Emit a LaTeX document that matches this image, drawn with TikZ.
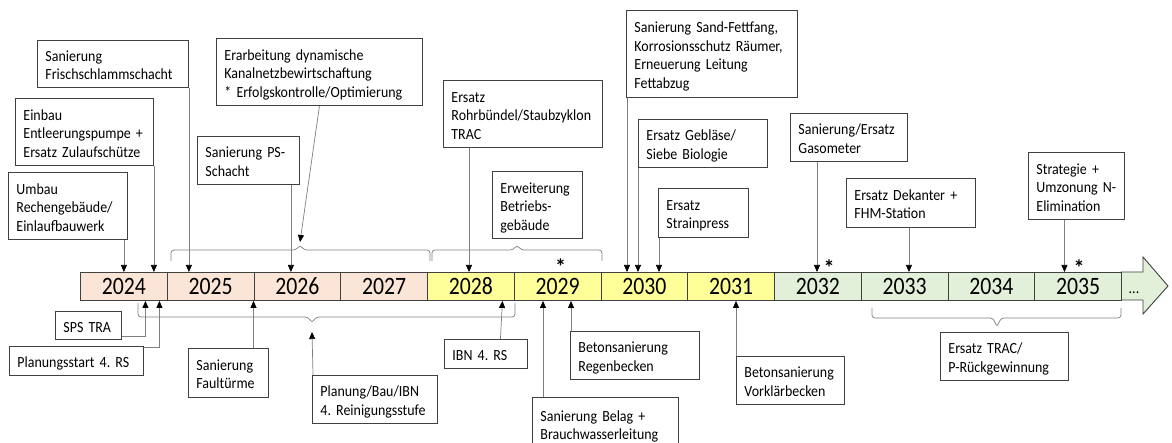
\documentclass[tikz,border=0pt]{standalone}
\usepackage{fontspec}
\setmainfont{Carlito}
\newfontfamily\boxfont{Carlito}[FakeStretch=0.9]
\newfontfamily\yearfont{Carlito}[FakeStretch=0.87]
\usetikzlibrary{arrows.meta,calc}
\definecolor{salmon}{HTML}{FBE5D6}
\definecolor{lemon}{HTML}{FFFF99}
\definecolor{mint}{HTML}{E2F0D9}
\definecolor{boxline}{HTML}{404040}
\definecolor{connline}{HTML}{7F7F7F}
\tikzset{
 box/.style={draw=boxline, line width=0.9pt, fill=white, inner xsep=8pt, inner ysep=2pt,
   anchor=north west, align=left, font=\boxfont\fontsize{15.5}{18.5}\selectfont\frenchspacing},
 cell/.style={draw=boxline, line width=0.9pt, minimum width=86.75pt, minimum height=28pt,
   inner sep=0pt, anchor=north west, font=\yearfont\fontsize{25}{26}\selectfont},
 conn/.style={draw=connline, line width=0.7pt, -{Triangle[length=7pt,width=6pt,color=black]}},
 brc/.style={draw=connline, line width=0.7pt, rounded corners=3pt},
 star/.style={inner sep=0pt, anchor=base, font=\bfseries\fontsize{22}{22}\selectfont},
}
\newcommand\bx[6]{%
  \pgfmathsetmacro\bxw{#4-#2}\pgfmathsetmacro\bxh{#5-#3}\pgfmathsetmacro\bxt{#4-#2-16}%
  \node[box, minimum width=\bxw pt, minimum height=\bxh pt, text width=\bxt pt] (#1) at (#2,#3)
    {\raisebox{-3pt}[\height][\depth]{\begin{tabular}{@{}l@{}}#6\end{tabular}}};}
\begin{document}
\begin{tikzpicture}[x=1pt,y=-1pt]
\useasboundingbox (0,0) rectangle (1172,443);
% arrow tail
\draw[draw=boxline, fill=mint, line width=0.9pt, line join=miter]
  (1121,272) -- (1143,272) -- (1143,257) -- (1168,286) -- (1143,314) -- (1143,300) -- (1121,300) -- cycle;
\node[inner sep=0pt, anchor=base, font=\boxfont\fontsize{15.5}{18.5}\selectfont] (dots) at (1134,294) {...};
% year cells
\foreach \i in {0,...,11}{
  \pgfmathtruncatemacro\yr{2024+\i}
  \ifnum\i<4 \def\cc{salmon}\else\ifnum\i<8 \def\cc{lemon}\else\def\cc{mint}\fi\fi
  \node[cell, fill=\cc] (c\yr) at ({80+86.75*\i},272) {\yr};
}
% braces
\coordinate (b1tip) at (300,245);
\coordinate (b2tip) at (312,323);
\coordinate (b3tip) at (517,245);
\coordinate (b4tip) at (997,327);
\draw[brc] (171,261) -- (171,250) -- (296,250) -- (b1tip) -- (304,250) -- (430,250) -- (430,261);
\draw[brc] (432,261) -- (432,250) -- (513,250) -- (b3tip) -- (521,250) -- (602,250) -- (602,261);
\draw[brc] (138,303) -- (138,317) -- (308,317) -- (b2tip) -- (316,317) -- (515,317) -- (515,303);
\draw[brc] (872,308) -- (872,318) -- (993,318) -- (b4tip) -- (1001,318) -- (1121,318) -- (1121,308);
% stars
\node[star] (s1) at (560.5,275) {\smash{*}};
\node[star] (s2) at (829,276) {\smash{*}};
\node[star] (s3) at (1079,276) {\smash{*}};
% top boxes
\bx{umbau}{8}{172}{127}{239}{Umbau\\Rechengebäude/\\Einlaufbauwerk}
\bx{einbau}{15}{98}{153}{165}{Einbau\\Entleerungspumpe +\\Ersatz Zulaufschütze}
\bx{frisch}{37}{40}{188}{87}{Sanierung\\Frischschlammschacht}
\bx{erarb}{216}{38}{422}{105}{Erarbeitung dynamische\\Kanalnetzbewirtschaftung\\{*} Erfolgskontrolle/Optimierung}
\bx{ps}{197}{136}{299}{184}{Sanierung PS-\\Schacht}
\bx{rohr}{443}{80}{602}{147}{Ersatz\\Rohrbündel/Staubzyklon\\TRAC}
\bx{erweit}{492}{171}{582}{238}{Erweiterung\\Betriebs-\\gebäude}
\bx{sand}{626}{10}{797}{97}{Sanierung Sand-Fettfang,\\Korrosionsschutz Räumer,\\Erneuerung Leitung\\Fettabzug}
\bx{gebl}{638}{119}{767}{167}{Ersatz Gebläse/\\Siebe Biologie}
\bx{strain}{658}{188}{748}{237}{Ersatz\\Strainpress}
\bx{gaso}{790}{113}{907}{161}{Sanierung/Ersatz\\Gasometer}
\bx{dek}{846}{178}{975}{227}{Ersatz Dekanter +\\FHM-Station}
\bx{strat}{1028}{152}{1124}{219}{Strategie +\\Umzonung N-\\Elimination}
% bottom boxes
\bx{sps}{55}{311}{121}{339}{SPS TRA}
\bx{planstart}{9}{346}{143}{375}{Planungsstart 4. RS}
\bx{faul}{188}{348}{268}{397}{Sanierung\\Faultürme}
\bx{planung}{312}{375}{437}{423}{Planung/Bau/IBN\\4. Reinigungsstufe}
\bx{ibn}{444}{339}{527}{368}{IBN 4. RS}
\bx{regen}{570}{331}{699}{379}{Betonsanierung\\Regenbecken}
\bx{belag}{532}{397}{678}{450}{Sanierung Belag +\\Brauchwasserleitung}
\bx{vork}{736}{356}{844}{404}{Betonsanierung\\Vorklärbecken}
\bx{trac}{940}{332}{1068}{380}{Ersatz TRAC/\\P-Rückgewinnung}
% top connectors
\draw[conn] ([xshift=-4pt]umbau.south east) -- ([xshift=-4pt]umbau.south east |- c2024.north);
\draw[conn] (einbau.south east) -- (einbau.south east |- c2024.north);
\draw[conn] (frisch.south east) -- (frisch.south east |- c2025.north);
\draw[conn] (erarb.south) -- ([yshift=3pt]b1tip);
\draw[conn] ([xshift=-9pt]ps.south east) -- ([xshift=-9pt]ps.south east |- c2026.north);
\draw[conn] ([xshift=26pt]rohr.south west) -- ([xshift=26pt]rohr.south west |- c2028.north);
\draw[conn] ([xshift=1pt]sand.south west) -- ([xshift=1pt]sand.south west |- c2030.north);
\draw[conn] (gebl.south west) -- (gebl.south west |- c2030.north);
\draw[conn] ([xshift=1pt]strain.south west) -- ([xshift=1pt]strain.south west |- c2030.north);
\draw[conn] ([xshift=27pt]gaso.south west) -- ([xshift=27pt]gaso.south west |- c2032.north);
\draw[conn] ([xshift=-2pt]dek.south) -- ([xshift=-2pt]dek.south |- c2033.north);
\draw[conn] ([xshift=-12pt]strat.south) -- ([xshift=-12pt]strat.south |- c2035.north);
% bottom connectors
\draw[conn] ([yshift=4pt]sps.south east) -| ([xshift=21.6pt]c2024.south);
\draw[conn] ([yshift=-1pt]planstart.north east) -| ([xshift=35.6pt]c2024.south);
\draw[conn] (faul.north -| c2026.south west) -- (c2026.south west);
\draw[conn] ([xshift=1pt]planung.north west) -- ([yshift=-9pt]b2tip);
\draw[conn] ([xshift=14.5pt]ibn.north) -- ([xshift=31.6pt]c2028.south);
\draw[conn] ([xshift=1pt]regen.north west) -- ([xshift=1pt]regen.north west |- c2029.south);
\draw[conn] ([xshift=11pt]belag.north west) -- ([xshift=11pt]belag.north west |- c2029.south);
\draw[conn] (vork.north west) -- (vork.north west |- c2031.south);
\end{tikzpicture}
\end{document}
